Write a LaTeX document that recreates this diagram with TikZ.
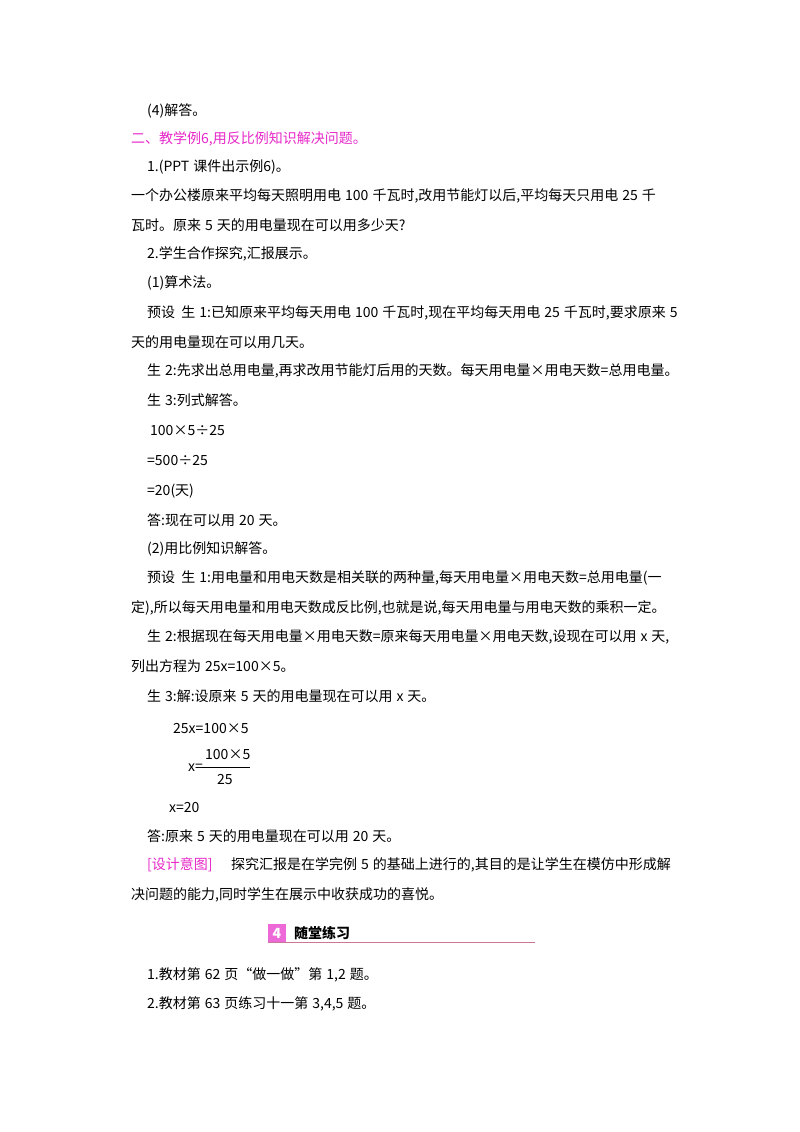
\documentclass[tikz,border=0pt]{standalone}
\usepackage{fontspec}
\setmainfont{Noto Sans CJK SC}
\definecolor{mag}{RGB}{230,40,200}
\definecolor{pinkline}{RGB}{200,120,150}
\newcommand{\gp}{\hspace{4pt}}
\begin{document}
\begin{tikzpicture}[x=1pt,y=-1pt,
  t/.style={anchor=west,inner sep=0pt,font=\fontsize{14}{16}\selectfont},
  m/.style={t,text=mag}]
\useasboundingbox (0,0) rectangle (800,1132);
\node[t] (l1) at (147,111) {(4)解答。};
\node[m] (l2) at (131,139) {二、教学例6,用反比例知识解决问题。};
\node[t] (l3) at (147,167) {1.(PPT\gp 课件出示例6)。};
\node[t] (l4) at (131,196) {一个办公楼原来平均每天照明用电\gp 100\gp 千瓦时,改用节能灯以后,平均每天只用电\gp 25\gp 千};
\node[t] (l5) at (131,225) {瓦时。原来\gp 5\gp 天的用电量现在可以用多少天?};
\node[t] (l6) at (147,254) {2.学生合作探究,汇报展示。};
\node[t] (l7) at (147,283) {(1)算术法。};
\node[t] (l8) at (147,313) {预设\ \ 生\gp 1:已知原来平均每天用电\gp 100\gp 千瓦时,现在平均每天用电\gp 25\gp 千瓦时,要求原来\gp 5};
\node[t] (l9) at (131,342) {天的用电量现在可以用几天。};
\node[t] (l10) at (147,371) {生\gp 2:先求出总用电量,再求改用节能灯后用的天数。每天用电量×用电天数=总用电量。};
\node[t] (l11) at (147,400) {生\gp 3:列式解答。};
\node[t] (l12) at (150,431) {100×5÷25};
\node[t] (l13) at (147,461) {=500÷25};
\node[t] (l14) at (147,491) {=20(天)};
\node[t] (l15) at (147,520) {答:现在可以用\gp 20\gp 天。};
\node[t] (l16) at (147,549) {(2)用比例知识解答。};
\node[t] (l17) at (147,578) {预设\ \ 生\gp 1:用电量和用电天数是相关联的两种量,每天用电量×用电天数=总用电量(一};
\node[t] (l18) at (131,608) {定),所以每天用电量和用电天数成反比例,也就是说,每天用电量与用电天数的乘积一定。};
\node[t] (l19) at (147,637) {生\gp 2:根据现在每天用电量×用电天数=原来每天用电量×用电天数,设现在可以用\gp \textit{x}\gp 天,};
\node[t] (l20) at (131,666) {列出方程为\gp 25\textit{x}=100×5。};
\node[t] (l21) at (147,696) {生\gp 3:解:设原来\gp 5\gp 天的用电量现在可以用\gp \textit{x}\gp 天。};
\node[t] (l22) at (173,728) {25\textit{x}=100×5};
\node[t] (l23) at (188,768) {\textit{x}=};
\node[t] (num) at (205,755) {100×5};
\node[t] (den) at (217,779) {25};
\draw[line width=0.6pt] (202,767) -- (250,767);
\node[t] (l24) at (169,807) {\textit{x}=20};
\node[t] (l25) at (147,836) {答:原来\gp 5\gp 天的用电量现在可以用\gp 20\gp 天。};
\node[m] (l26) at (147,865) {[设计意图]};
\node[t] (l26b) at (231,865) {探究汇报是在学完例\gp 5\gp 的基础上进行的,其目的是让学生在模仿中形成解};
\node[t] (l27) at (131,895) {决问题的能力,同时学生在展示中收获成功的喜悦。};
\fill[mag!70] (268,924) rectangle (286,942);
\node[inner sep=0pt,text=white,font=\bfseries\itshape\fontsize{14}{14}\selectfont] (n4) at (277,933) {4};
\node[t,font=\bfseries\fontsize{14}{16}\selectfont] (hd) at (294,933) {随堂练习};
\draw[pinkline,line width=0.8pt] (268,942.5) -- (535,942.5);
\node[t] (l28) at (147,975) {1.教材第\gp 62\gp 页“做一做”第\gp 1,2\gp 题。};
\node[t] (l29) at (147,1004) {2.教材第\gp 63\gp 页练习十一第\gp 3,4,5\gp 题。};
\end{tikzpicture}
\end{document}
